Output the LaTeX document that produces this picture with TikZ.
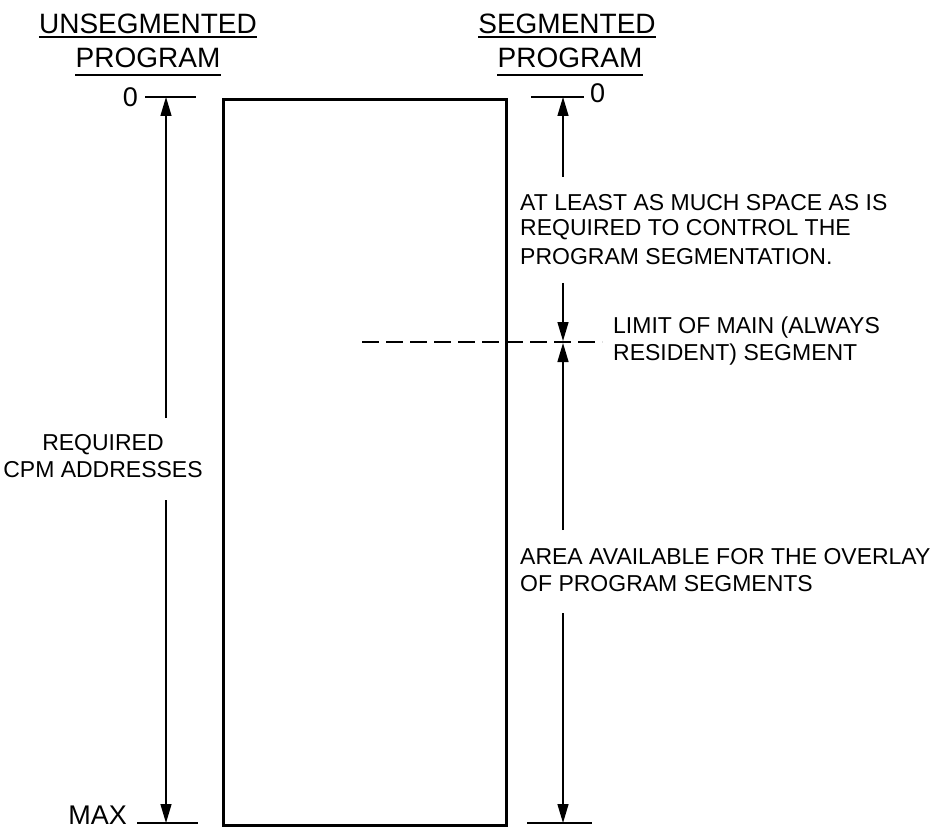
\documentclass[tikz,border=0pt]{standalone}
\usepackage{fontspec}
\setmainfont{Liberation Sans}
\usetikzlibrary{arrows.meta}
\begin{document}
\begin{tikzpicture}[x=1pt,y=-1pt,
  lbl/.style={inner sep=0pt, font=\fontsize{23}{27}\selectfont},
  big/.style={inner sep=0pt, font=\fontsize{27}{30}\selectfont},
  ttl/.style={inner sep=0pt, font=\fontsize{28}{32}\selectfont},
  thinline/.style={line width=1.4pt},
  uline/.style={line width=2pt},
  arr/.style={line width=1.4pt, -{Triangle[length=19pt,width=11pt]}},
  membox/.style={draw, line width=2.8pt, inner sep=0pt, minimum width=283pt, minimum height=726pt}]
\useasboundingbox (0,0) rectangle (935,829);

% titles
\node[ttl] (tU) at (148,24) {UNSEGMENTED};
\node[ttl] (tUP) at (148,58) {PROGRAM};
\node[ttl] (tS) at (567,24) {SEGMENTED};
\node[ttl] (tSP) at (570,58) {PROGRAM};
\draw[uline] ([yshift=-3pt]tU.south west) -- ([yshift=-3pt]tU.south east);
\draw[uline] ([yshift=-7pt]tUP.south west) -- ([yshift=-7pt]tUP.south east);
\draw[uline] ([yshift=-3pt]tS.south west) -- ([yshift=-3pt]tS.south east);
\draw[uline] ([yshift=-7pt]tSP.south west) -- ([yshift=-7pt]tSP.south east);

% memory box
\node[membox, anchor=north west] (mem) at (222,98) {};

% left side
\node[big, anchor=east] (zL) at (138,97) {0};
\coordinate (ltA) at (145,97);
\coordinate (ltB) at (196,97);
\draw[thinline] (ltA) -- (ltB);
\node[big, anchor=east] (maxL) at (127,815) {MAX};
\coordinate (lbA) at (137,823);
\coordinate (lbB) at (198,823);
\draw[thinline] (lbA) -- (lbB);
\node[lbl] (req1) at (103,445) {REQUIRED};
\node[lbl] (req2) at (103,470) {CPM ADDRESSES};
\coordinate (la0) at (166,97);
\coordinate (la1) at (166,418);
\coordinate (la2) at (166,500);
\coordinate (la3) at (166,823);
\draw[arr] (la1) -- (la0);
\draw[arr] (la2) -- (la3);

% right side
\node[big, anchor=west] (zR) at (590,93) {0};
\coordinate (rtA) at (531,97);
\coordinate (rtB) at (584,97);
\draw[thinline] (rtA) -- (rtB);
\coordinate (rbA) at (527,823);
\coordinate (rbB) at (592,823);
\draw[thinline] (rbA) -- (rbB);

\node[lbl, anchor=west] (s1) at (520,203) {AT LEAST AS MUCH SPACE AS IS};
\node[lbl, anchor=west] (s2) at (520,230) {REQUIRED TO CONTROL THE};
\node[lbl, anchor=west] (s3) at (520,257) {PROGRAM SEGMENTATION.};

\node[lbl, anchor=west] (m1) at (613,328) {LIMIT OF MAIN (ALWAYS};
\node[lbl, anchor=west] (m2) at (613,355) {RESIDENT) SEGMENT};

\node[lbl, anchor=west] (o1) at (520,557) {AREA AVAILABLE FOR THE OVERLAY};
\node[lbl, anchor=west] (o2) at (520,584) {OF PROGRAM SEGMENTS};

\coordinate (ra0) at (563,97);
\coordinate (ra1) at (563,177);
\coordinate (ra2) at (563,283);
\coordinate (ra3) at (563,341);
\coordinate (ra4) at (563,343);
\coordinate (ra5) at (563,530);
\coordinate (ra6) at (563,613);
\coordinate (ra7) at (563,823);
\draw[arr] (ra1) -- (ra0);
\draw[arr] (ra2) -- (ra3);
\draw[arr] (ra5) -- (ra4);
\draw[arr] (ra6) -- (ra7);

\coordinate (dA) at (362,342);
\coordinate (dB) at (602,342);
\draw[thinline, dash pattern=on 17pt off 7pt] (dA) -- (dB);
\end{tikzpicture}
\end{document}
